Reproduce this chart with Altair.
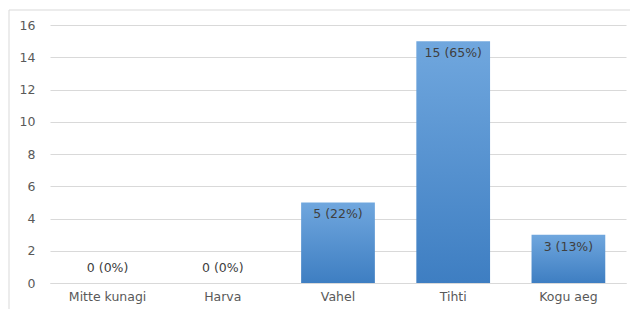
import altair as alt
import pandas as pd

categories = ["Mitte kunagi", "Harva", "Vahel", "Tihti", "Kogu aeg"]
counts = [0, 0, 5, 15, 3]
labels = ["0 (0%)", "0 (0%)", "5 (22%)", "15 (65%)", "3 (13%)"]
y_ticks = [0, 2, 4, 6, 8, 10, 12, 14, 16]

df = pd.DataFrame({"cat": categories, "n": counts, "label": labels})

FONT = "DejaVu Sans"
TXT = "#595959"
FS = 12.5

x = alt.X("cat:N", sort=categories, title=None,
          scale=alt.Scale(paddingInner=0.36, paddingOuter=0.18),
          axis=alt.Axis(labelAngle=0, labelColor=TXT, labelFontSize=FS, labelFont=FONT,
                        ticks=False, labelPadding=7, domainColor="#d9d9d9", grid=False))
y = alt.Y("n:Q", title=None,
          scale=alt.Scale(domain=[0, 16]),
          axis=alt.Axis(values=y_ticks, labelColor=TXT, labelFontSize=FS, labelFont=FONT,
                        ticks=False, labelPadding=15, domain=False, gridColor="#d9d9d9"))

base = alt.Chart(df)

border = base.mark_rect(fill=None, stroke="#d9d9d9", strokeWidth=1).encode(
    x=alt.value(-41), x2=alt.value(700), y=alt.value(-15), y2=alt.value(320)
).transform_filter(alt.datum.cat == "Harva")

bars = base.mark_bar(
    color=alt.Gradient(gradient="linear", x1=0, x2=0, y1=0, y2=1,
                       stops=[alt.GradientStop(offset=0, color="#70a7de"),
                              alt.GradientStop(offset=1, color="#3e7ec2")])
).encode(x=x, y=y)

text_in = base.mark_text(baseline="top", dy=6, fontSize=FS, font=FONT, color="#404040").encode(
    x=x, y=y, text="label:N"
).transform_filter(alt.datum.n > 0)

text_out = base.mark_text(baseline="bottom", dy=-8, fontSize=FS, font=FONT, color="#404040").encode(
    x=x, y=y, text="label:N"
).transform_filter(alt.datum.n == 0)

chart = alt.layer(border, bars, text_in, text_out).properties(
    width=576, height=258,
    autosize=alt.AutoSizeParams(type="none"),
    padding={"left": 42, "top": 17, "right": 4, "bottom": 26},
    background="white"
).configure_view(stroke=None)

chart.save("out.html", embed_options={"renderer": "svg", "actions": False})
